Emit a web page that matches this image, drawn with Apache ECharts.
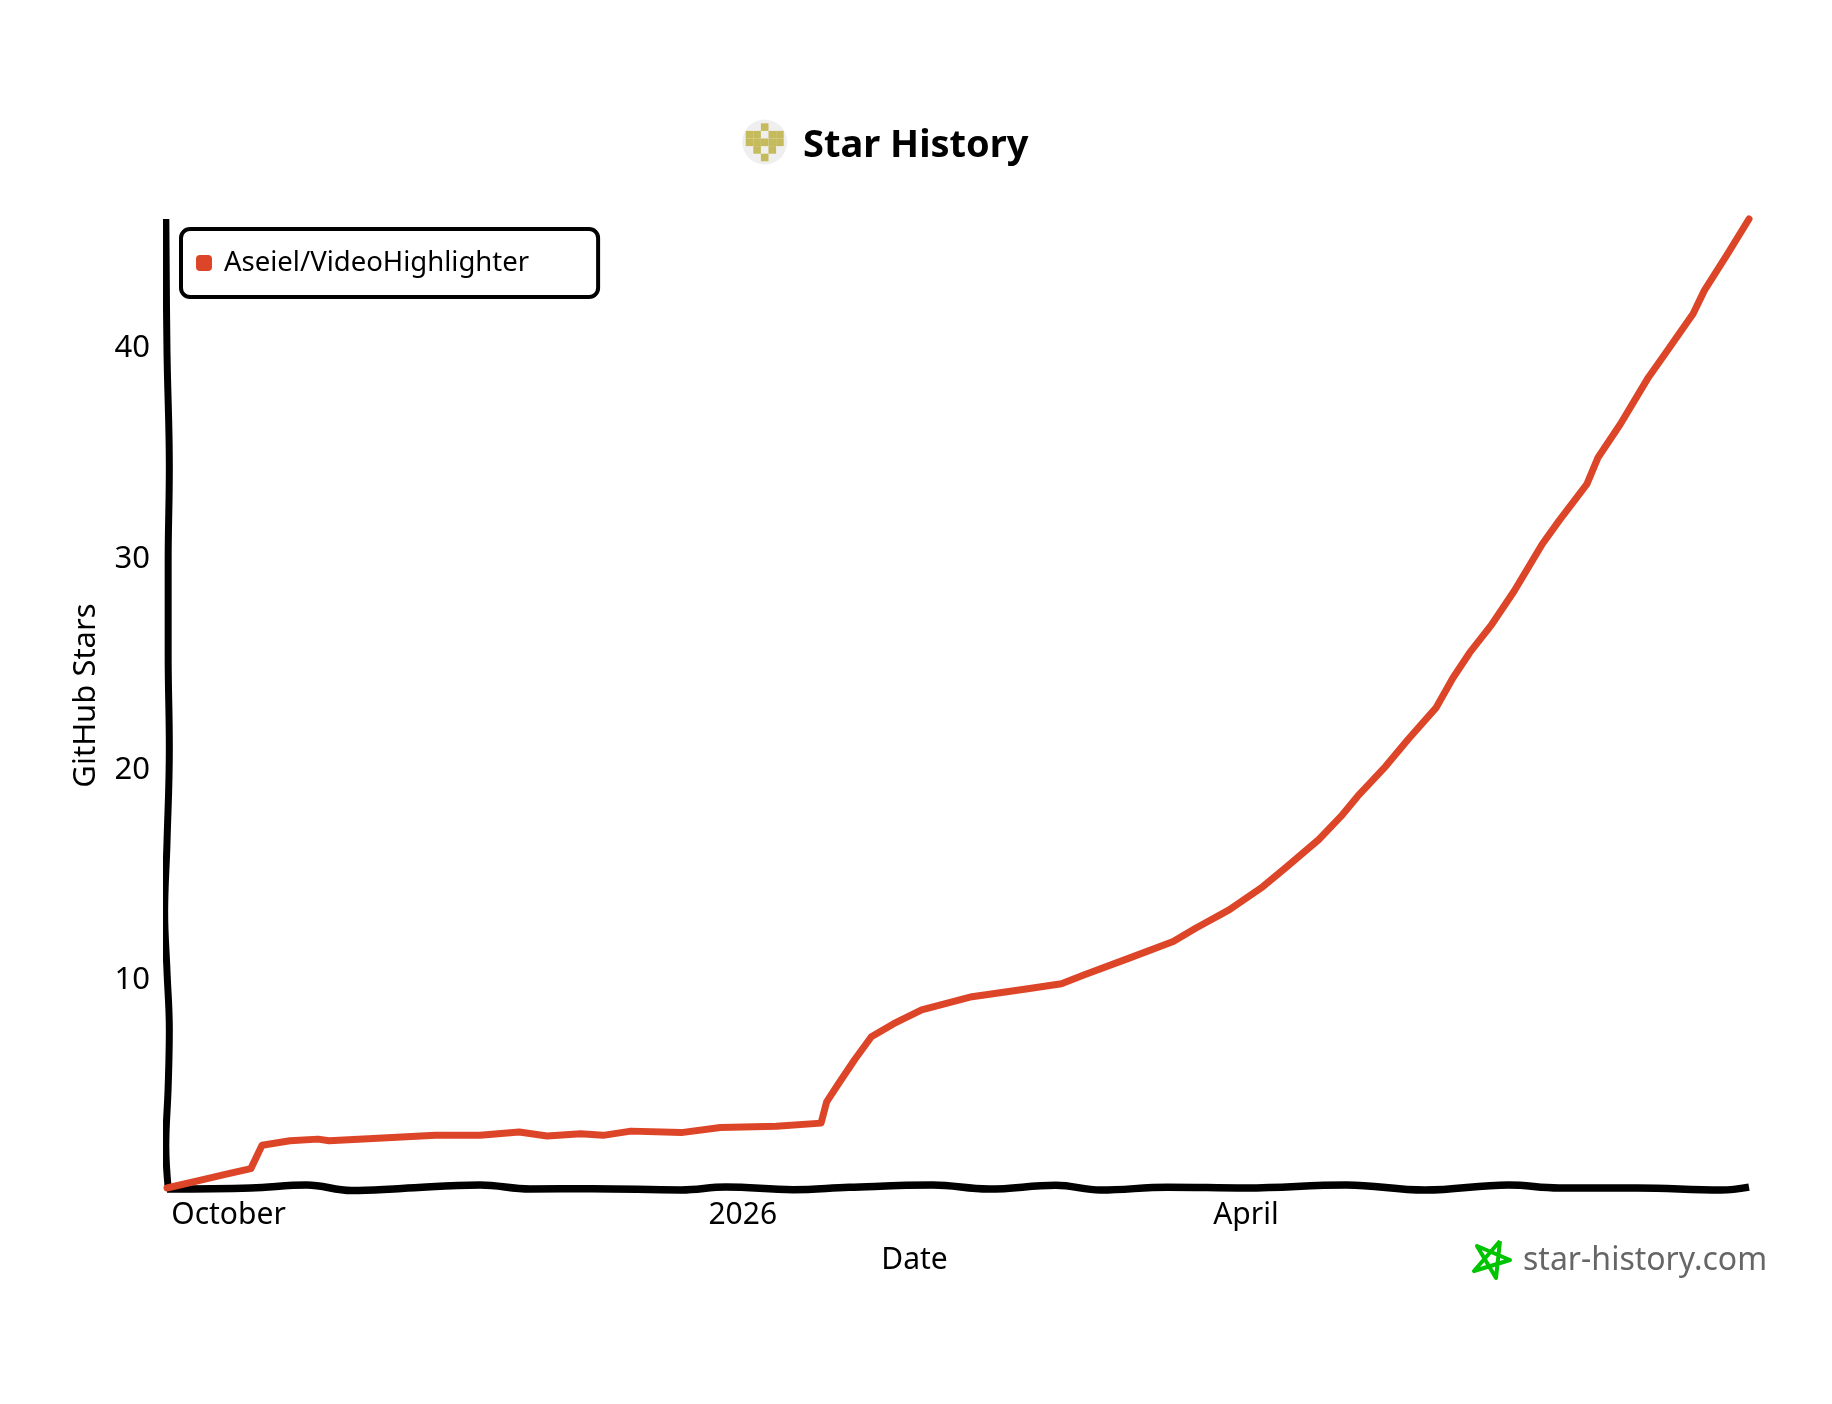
<!DOCTYPE html>
<html>
<head>
<meta charset="utf-8">
<title>Star History</title>
<script src="https://cdn.jsdelivr.net/npm/echarts@6/dist/echarts.min.js"></script>
<style>
  html, body { margin: 0; padding: 0; background: #fff; }
  #chart { width: 1832px; height: 1404px; }
</style>
</head>
<body>
<div id="chart"></div>
<script>
// Star history of one repo
const repoName = 'Aseiel/VideoHighlighter';
const starDates = [
  '2025-09-20', '2025-09-27', '2025-10-01', '2025-10-05', '2025-10-07', '2025-10-12', '2025-10-17', '2025-10-19',
  '2025-10-26', '2025-11-07', '2025-11-15', '2025-11-22', '2025-11-27', '2025-12-03', '2025-12-07',
  '2025-12-12', '2025-12-21', '2025-12-28', '2026-01-07', '2026-01-15', '2026-01-16', '2026-01-18',
  '2026-01-21', '2026-01-24', '2026-01-28', '2026-02-02', '2026-02-11', '2026-02-21', '2026-02-27',
  '2026-03-03', '2026-03-11', '2026-03-19', '2026-03-23', '2026-03-29', '2026-04-04', '2026-04-08',
  '2026-04-14', '2026-04-18', '2026-04-21', '2026-04-26', '2026-04-30', '2026-05-05', '2026-05-08',
  '2026-05-11', '2026-05-15', '2026-05-19', '2026-05-24', '2026-05-27', '2026-06-01', '2026-06-03',
  '2026-06-07', '2026-06-12', '2026-06-15', '2026-06-20', '2026-06-22', '2026-06-26', '2026-06-30'
];
const starCounts = [
  0, 0.43, 0.68, 0.92, 2.03, 2.24, 2.32, 2.24,
  2.34, 2.5, 2.5, 2.66, 2.47, 2.58, 2.5,
  2.7, 2.63, 2.87, 2.93, 3.08, 4.09, 4.9,
  6.09, 7.18, 7.8, 8.46, 9.08, 9.46, 9.7,
  10.11, 10.9, 11.7, 12.33, 13.2, 14.3, 15.18,
  16.53, 17.64, 18.6, 20.02, 21.29, 22.79, 24.2,
  25.4, 26.76, 28.34, 30.56, 31.67, 33.41, 34.68,
  36.27, 38.48, 39.6, 41.5, 42.6, 44.27, 46
];
const xTickDates = ['2025-10-01', '2026-01-01', '2026-04-01'];
const xTickLabels = ['October', '2026', 'April'];

// hand drawn wobble of the two axes
const baseDates = [
  '2025-09-20', '2025-10-05', '2025-10-15', '2025-10-23', '2025-11-01', '2025-11-15', '2025-11-24',
  '2025-12-05', '2025-12-21', '2025-12-29', '2026-01-10', '2026-01-20', '2026-02-04', '2026-02-14',
  '2026-02-26', '2026-03-06', '2026-03-18', '2026-04-01', '2026-04-19', '2026-05-03', '2026-05-18',
  '2026-05-27', '2026-06-10', '2026-06-25', '2026-06-30'
];
const baseWobble = [
  -0.05, 0, 0.14, -0.12, -0.02, 0.14, -0.05, -0.03, -0.09, 0.05, -0.08, 0.03, 0.14, -0.05,
  0.13, -0.1, 0.04, 0, 0.14, -0.1, 0.14, 0, 0, -0.1, 0.04
];
const leftLevels = [46, 39.7, 34.2, 29.7, 25.3, 20.9, 16.4, 13.1, 10.3, 7.5, 4.8, 2, 0];
const leftDates = [
  '2025-09-19T19:00', '2025-09-20T00:00', '2025-09-20T10:00', '2025-09-20T05:00', '2025-09-20T05:00',
  '2025-09-20T10:00', '2025-09-20T00:00', '2025-09-19T14:00', '2025-09-20T00:00', '2025-09-20T10:00',
  '2025-09-20T05:00', '2025-09-19T19:00', '2025-09-20T05:00'
];

// little pixel heart next to the title, 1 = gold
const iconPixels = [
  [0, 0, 1, 0, 0],
  [1, 1, 0, 1, 1],
  [1, 1, 1, 1, 1],
  [0, 1, 0, 1, 0],
  [0, 0, 1, 0, 0]
];

const sketchFont = '"Noto Sans", sans-serif';
const toMs = d => new Date(d.length === 10 ? d + 'T00:00:00' : d).getTime();

function dibujarIcono() {
  const px = 7.6;
  const left = 745.7;
  const top = 123.3;
  const cuadros = [{ type: 'circle', shape: { cx: 764.7, cy: 142, r: 22.5 }, style: { fill: '#efefef' } }];
  iconPixels.forEach((fila, r) => {
    fila.forEach((v, c) => {
      if (!v) return;
      cuadros.push({
        type: 'rect',
        shape: { x: left + c * px, y: top + r * px, width: px, height: px },
        style: { fill: '#c6bb5c' }
      });
    });
  });
  return cuadros;
}

const chart = echarts.init(document.getElementById('chart'));

chart.setOption({
  animation: false,
  backgroundColor: '#ffffff',
  textStyle: { fontFamily: sketchFont },
  title: {
    text: 'Star History',
    left: 798,
    top: 122,
    textStyle: { fontFamily: sketchFont, fontSize: 38, fontWeight: 'bold', color: '#000' }
  },
  grid: { left: 167, top: 219, right: 83, bottom: 216 },
  legend: {
    data: [repoName],
    left: 181,
    top: 229,
    orient: 'vertical',
    padding: [20, 69, 20, 15],
    backgroundColor: '#fff',
    borderColor: '#000',
    borderWidth: 4,
    borderRadius: 9,
    itemWidth: 16,
    itemHeight: 16,
    itemGap: 0,
    icon: 'roundRect',
    textStyle: { fontFamily: sketchFont, fontSize: 27.5, color: '#000', padding: [0, 0, 0, 7] }
  },
  xAxis: {
    type: 'value',
    min: toMs('2025-09-20'),
    max: toMs('2026-06-30'),
    name: 'Date',
    nameLocation: 'middle',
    nameGap: 57,
    nameTextStyle: { fontFamily: sketchFont, fontSize: 30, color: '#000', padding: [0, 87, 0, 0] },
    axisLine: { show: false },
    axisTick: { show: false },
    splitLine: { show: false },
    axisLabel: {
      customValues: xTickDates.map(toMs),
      hideOverlap: false,
      margin: 12,
      fontFamily: sketchFont,
      fontSize: 30,
      color: '#000',
      formatter: value => {
        const i = xTickDates.findIndex(d => toMs(d) === value);
        return i >= 0 ? xTickLabels[i] : '';
      }
    }
  },
  yAxis: {
    type: 'value',
    min: 0,
    max: 46,
    interval: 10,
    name: 'GitHub Stars',
    nameLocation: 'middle',
    nameGap: 65,
    nameTextStyle: { fontFamily: sketchFont, fontSize: 31, color: '#000', padding: [0, 0, 0, 16] },
    axisLine: { show: false },
    axisTick: { show: false },
    splitLine: { show: false },
    axisLabel: {
      margin: 17,
      showMaxLabel: false,
      verticalAlign: 'top',
      lineHeight: 6,
      fontFamily: sketchFont,
      fontSize: 31,
      color: '#000',
      formatter: value => (value % 10 === 0 && value > 0 ? String(value) : '')
    }
  },
  series: [
    {
      name: 'x axis',
      type: 'line',
      silent: true,
      clip: false,
      symbol: 'none',
      smooth: 0.4,
      lineStyle: { color: '#000', width: 7.5 },
      data: baseDates.map((d, i) => [toMs(d), baseWobble[i]])
    },
    {
      name: 'y axis',
      type: 'line',
      silent: true,
      clip: false,
      symbol: 'none',
      smooth: 0.4,
      lineStyle: { color: '#000', width: 7 },
      data: leftDates.map((d, i) => [toMs(d), leftLevels[i]])
    },
    {
      name: repoName,
      type: 'line',
      clip: false,
      symbol: 'none',
      itemStyle: { color: '#dd4528' },
      lineStyle: { color: '#dd4528', width: 7, join: 'round', cap: 'round' },
      data: starDates.map((d, i) => [toMs(d), starCounts[i]])
    }
  ],
  graphic: [
    ...dibujarIcono(),
    {
      type: 'polyline',
      shape: { points: [[1500, 1241], [1474, 1271], [1510, 1260], [1477, 1246], [1496, 1278], [1500, 1241]] },
      style: { stroke: '#00c400', lineWidth: 4, fill: null, lineJoin: 'round' }
    },
    {
      type: 'text',
      left: 1523,
      top: 1245,
      style: { text: 'star-history.com', fontFamily: sketchFont, fontSize: 32, fill: '#666666' }
    }
  ]
});
</script>
</body>
</html>
